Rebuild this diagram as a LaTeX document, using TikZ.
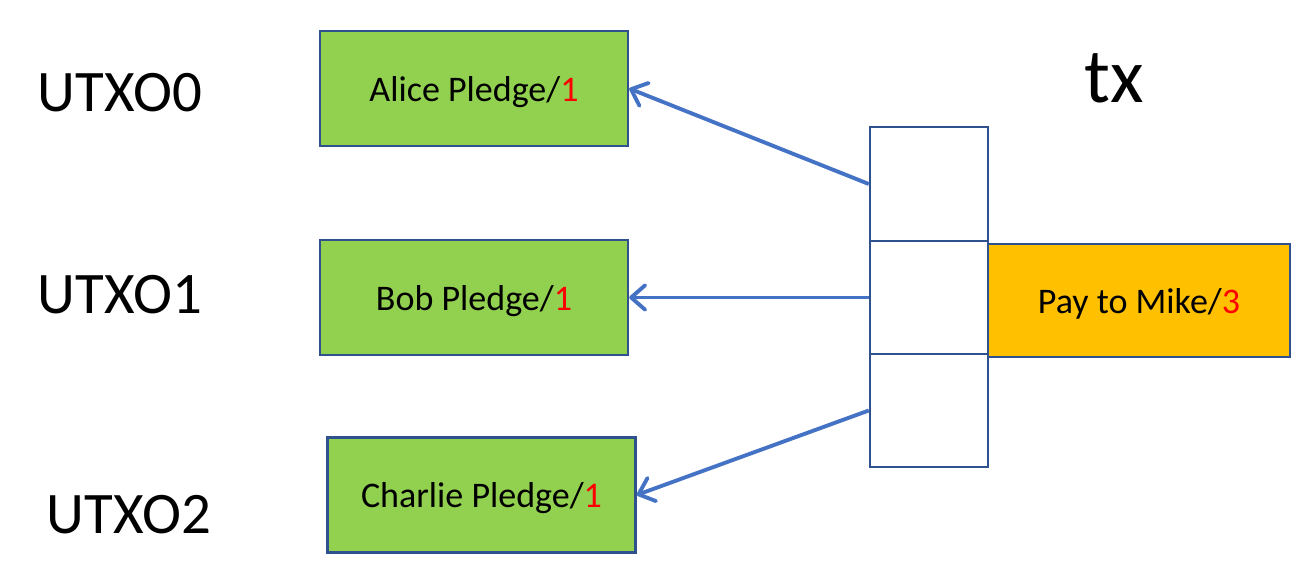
\documentclass[tikz,border=0pt]{standalone}
\usepackage{fontspec}
\setmainfont{Carlito}
\usetikzlibrary{arrows.meta}

\definecolor{pledgegreen}{HTML}{92D050}
\definecolor{payorange}{HTML}{FFC000}
\definecolor{edgeblue}{HTML}{2F528F}
\definecolor{linkblue}{HTML}{4472C4}

\begin{document}
\begin{tikzpicture}[
  x=0.02cm, y=-0.02cm,
  utxo/.style={
    draw=edgeblue,
    line width=1.4pt,
    minimum width=61.6mm,
    minimum height=23mm,
    text depth=0pt,
    fill=pledgegreen,
    font=\fontsize{20.5}{24}\selectfont
  },
  cell/.style={
    draw=edgeblue,
    line width=1.4pt,
    minimum width=23.6mm,
    minimum height=22.7mm,
    fill=white
  },
  output/.style={
    draw=edgeblue,
    line width=1.4pt,
    minimum width=60.4mm,
    minimum height=22.6mm,
    text depth=0pt,
    fill=payorange,
    font=\fontsize{20.5}{24}\selectfont
  },
  label/.style={font=\fontsize{33.5}{40}\selectfont},
  spend/.style={line width=2.2pt,linkblue,
    -{Straight Barb[length=8pt,width=14pt,line width=2.2pt,round]}}
]
  \useasboundingbox (0,0) rectangle (1292,584);

  % the three unspent outputs on the left
  \node[label] (name0) at (120,93) {UTXO0};
  \node[label] (name1) at (120,295) {UTXO1};
  \node[label] (name2) at (129,515) {UTXO2};

  \node[utxo] (alice) at (474,88.5) {Alice Pledge/\textcolor{red}{1}};
  \node[utxo] (bob) at (474,297.5) {Bob Pledge/\textcolor{red}{1}};
  \node[utxo] (charlie) at (481.5,495) {Charlie Pledge/\textcolor{red}{1}};

  % the transaction: a column of inputs and one output
  \node[font=\fontsize{44}{50}\selectfont] (tx) at (1114,78) {tx};
  \node[cell] (in0) at (929,184) {};
  \node[cell] (in1) at (929,297.5) {};
  \node[cell] (in2) at (929,410.5) {};
  \node[output] (pay) at (1139,300.5) {Pay to Mike/\textcolor{red}{3}};

  % each input points back at the output it spends
  \draw[spend] (in0.west) -- (alice.east);
  \draw[spend] (in1.west) -- (bob.east);
  \draw[spend] (in2.west) -- (charlie.east);
\end{tikzpicture}
\end{document}
